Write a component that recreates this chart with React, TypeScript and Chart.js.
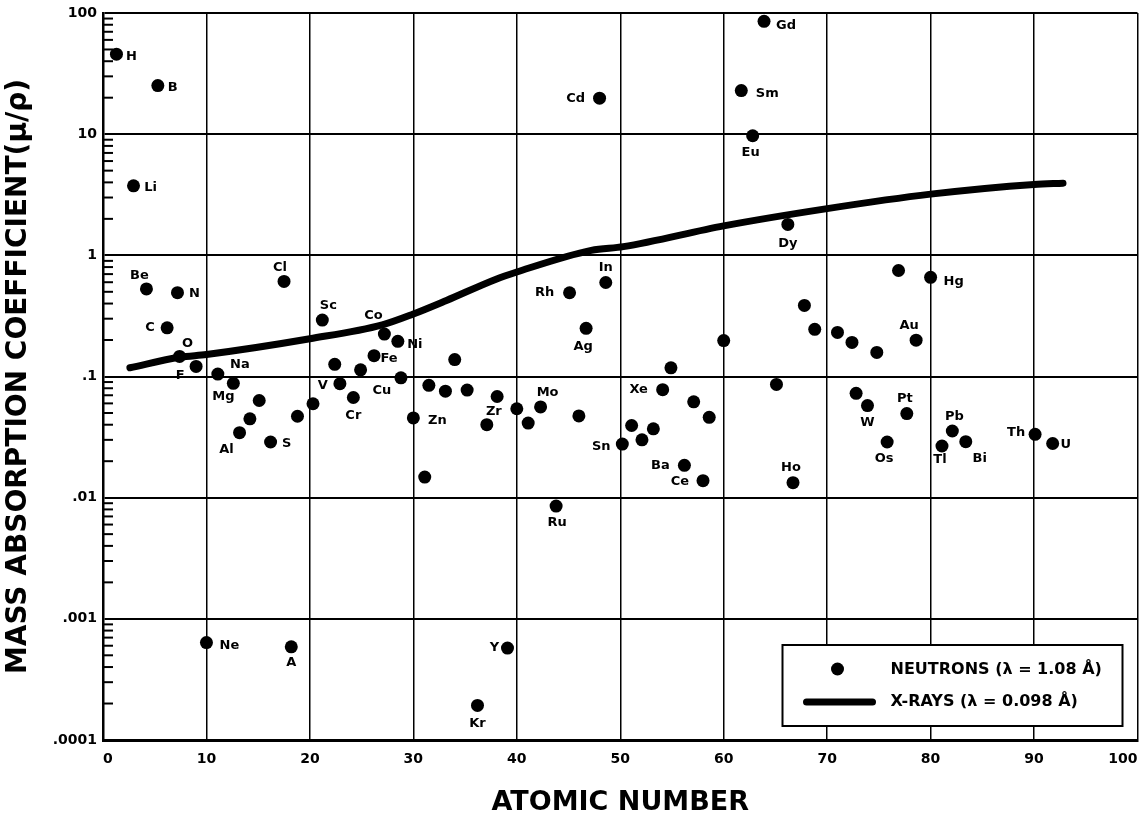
import React, { useEffect, useRef } from 'react';
import { Chart, registerables } from 'chart.js';

Chart.register(...registerables);

const FONT = "'DejaVu Sans', 'Liberation Sans', sans-serif";

// ---- Data ----
const elementSymbols = [
  'H', 'Li', 'Be', 'B', 'C', 'N', 'O', 'F', 'Ne', 'Na',
  'Mg', 'Al', '', '', 'S', 'Cl', 'A', '', '', 'Sc',
  '', 'V', 'Cr', '', 'Fe', 'Co', 'Ni', 'Cu', 'Zn', '',
  '', '', '', '', 'Kr', '', '', 'Y', 'Zr', '',
  'Mo', 'Ru', 'Rh', '', 'Ag', 'Cd', 'In', 'Sn', '', '',
  '', 'Xe', '', 'Ba', '', 'Ce', '', '', 'Sm', 'Eu',
  'Gd', '', 'Dy', 'Ho', '', '', '', '', '', 'W',
  '', 'Os', '', 'Pt', 'Au', 'Hg', 'Tl', 'Pb', 'Bi', 'Th',
  'U',
];

const atomicNumbers = [
  1.3, 2.95, 4.2, 5.3, 6.2, 7.2, 7.4, 9.0, 10.0, 11.1,
  12.6, 13.2, 14.2, 15.1, 16.2, 17.5, 18.2, 18.8, 20.3, 21.2,
  22.4, 22.9, 24.2, 24.9, 26.2, 27.2, 28.5, 28.8, 30.0, 31.1,
  31.5, 33.1, 34.0, 35.2, 36.2, 37.1, 38.1, 39.1, 40.0, 41.1,
  42.3, 43.8, 45.1, 46.0, 46.7, 48.0, 48.6, 50.2, 51.1, 52.1,
  53.2, 54.1, 54.9, 56.2, 57.1, 58.0, 58.6, 60.0, 61.7, 62.8,
  63.9, 65.1, 66.2, 66.7, 67.8, 68.8, 71.0, 72.4, 72.8, 73.9,
  74.8, 75.8, 76.9, 77.7, 78.6, 80.0, 81.1, 82.1, 83.4, 90.1,
  91.8,
];

const neutronCoefficients = [
  45.7, 3.75, 0.528, 25.2, 0.252, 0.492, 0.1465, 0.121, 0.000637, 0.1047,
  0.0879, 0.0344, 0.0447, 0.0634, 0.0288, 0.609, 0.000587, 0.047, 0.0596, 0.292,
  0.126, 0.0873, 0.0671, 0.1135, 0.1485, 0.224, 0.195, 0.0975, 0.0455, 0.0148,
  0.0846, 0.0757, 0.138, 0.0773, 0.000193, 0.04, 0.0684, 0.000574, 0.0542, 0.0413,
  0.0561, 0.00853, 0.491, 0.0473, 0.25, 19.8, 0.597, 0.0277, 0.0394, 0.03,
  0.037, 0.0778, 0.118, 0.0185, 0.0618, 0.0138, 0.046, 0.198, 22.9, 9.7,
  85.4, 0.086, 1.8, 0.0133, 0.386, 0.245, 0.231, 0.191, 0.0726, 0.0575,
  0.158, 0.0288, 0.75, 0.0494, 0.1995, 0.658, 0.0267, 0.0355, 0.029, 0.0333,
  0.028,
];

const xrayAtomicNumbers = [2.6, 7.4, 10, 20, 27, 30, 33.2, 38, 40, 47.2, 50.3, 60, 70, 80, 90, 92.8];
const xrayCoefficients = [0.118, 0.144, 0.152, 0.205, 0.267, 0.328, 0.424, 0.636, 0.729, 1.1, 1.18, 1.75, 2.43, 3.2, 3.85, 3.94];

const xTickValues = [0, 10, 20, 30, 40, 50, 60, 70, 80, 90, 100];
const xTickLabels = ['0', '10', '20', '30', '40', '50', '60', '70', '80', '90', '100'];
const yTickValues = [0.0001, 0.001, 0.01, 0.1, 1, 10, 100];
const yTickLabels = ['.0001', '.001', '.01', '.1', '1', '10', '100'];
const yMinorMultipliers = [2, 3, 4, 5, 6, 7, 8, 9];

const seriesLabels = ['NEUTRONS (λ = 1.08 Å)', 'X-RAYS (λ = 0.098 Å)'];
const xAxisTitle = 'ATOMIC NUMBER';
const yAxisTitle = 'MASS ABSORPTION COEFFICIENT(μ/ρ)';

// ---- Label placement (offset of label centre from its dot, px) ----
const labelOffsets: Record<string, [number, number]> = {
  H: [15, 2], Li: [17, 2], Be: [-7, -13], B: [15, 2], C: [-17, 0], N: [17, 1],
  O: [8, -13], F: [-16, 9], Ne: [23, 3], Na: [22, -9], Mg: [-10, 13], Al: [-13, 17],
  S: [16, 2], Cl: [-4, -14], A: [0, 16], Sc: [6, -14], V: [-17, 2], Cr: [0, 18],
  Fe: [15, 3], Co: [-11, -18], Ni: [17, 3], Cu: [-19, 13], Zn: [24, 3], Kr: [0, 18],
  Y: [-13, 0], Zr: [-23, 3], Mo: [7, -14], Ru: [1, 17], Rh: [-25, 0], Ag: [-3, 18],
  Cd: [-24, 0], In: [0, -15], Sn: [-21, 3], Xe: [-24, 0], Ba: [-24, 0], Ce: [-23, 1],
  Sm: [26, 3], Eu: [-2, 17], Gd: [22, 4], Dy: [0, 19], Ho: [-2, -15], W: [0, 17],
  Os: [-3, 17], Pt: [-2, -15], Au: [-7, -15], Hg: [23, 4], Tl: [-2, 14], Pb: [2, -14],
  Bi: [14, 17], Th: [-19, -2], U: [13, 1],
};

const minorTicksPlugin = {
  id: 'minorTicks',
  afterDraw(chart: any) {
    const y = chart.scales.y;
    const ctx = chart.ctx;
    const left = chart.chartArea.left;
    ctx.save();
    ctx.strokeStyle = '#000';
    ctx.lineWidth = 2;
    for (let d = 0; d < yTickValues.length - 1; d++) {
      for (const m of yMinorMultipliers) {
        const py = y.getPixelForValue(yTickValues[d] * m);
        ctx.beginPath();
        ctx.moveTo(left, py);
        ctx.lineTo(left + 10, py);
        ctx.stroke();
      }
    }
    ctx.restore();
  },
};

const labelPlugin = {
  id: 'elementLabels',
  afterDatasetsDraw(chart: any) {
    const meta = chart.getDatasetMeta(0);
    const ctx = chart.ctx;
    ctx.save();
    ctx.font = `bold 13px ${FONT}`;
    ctx.fillStyle = '#000';
    ctx.textAlign = 'center';
    ctx.textBaseline = 'middle';
    meta.data.forEach((pt: any, i: number) => {
      const sym = elementSymbols[i];
      if (!sym) return;
      const off = labelOffsets[sym] || [14, 0];
      ctx.fillText(sym, pt.x + off[0], pt.y + off[1]);
    });
    ctx.restore();
  },
};

const legendPlugin = {
  id: 'boxLegend',
  afterDraw(chart: any) {
    const { ctx, chartArea } = chart;
    const w = 340;
    const h = 81;
    const bx = chartArea.right - 15 - w;
    const by = chartArea.bottom - 14 - h;
    ctx.save();
    ctx.fillStyle = '#fff';
    ctx.fillRect(bx, by, w, h);
    ctx.strokeStyle = '#000';
    ctx.lineWidth = 2;
    ctx.strokeRect(bx, by, w, h);
    const ds = chart.data.datasets;
    // neutron marker
    ctx.fillStyle = '#000';
    ctx.beginPath();
    ctx.arc(bx + 55, by + 24, ds[0].pointRadius, 0, Math.PI * 2);
    ctx.fill();
    // x-ray line sample
    ctx.lineWidth = ds[1].borderWidth;
    ctx.lineCap = 'round';
    ctx.beginPath();
    ctx.moveTo(bx + 24, by + 57);
    ctx.lineTo(bx + 90, by + 57);
    ctx.stroke();
    ctx.font = `bold 16px ${FONT}`;
    ctx.textAlign = 'left';
    ctx.textBaseline = 'middle';
    ctx.fillText(ds[0].label, bx + 108, by + 25);
    ctx.fillText(ds[1].label, bx + 108, by + 57);
    ctx.restore();
  },
};

export default function App() {
  const ref = useRef<HTMLCanvasElement>(null);

  useEffect(() => {
    const canvas = ref.current;
    if (!canvas) return;
    const chart = new Chart(canvas, {
      type: 'scatter',
      data: {
        datasets: [
          {
            type: 'scatter',
            label: seriesLabels[0],
            data: atomicNumbers.map((z, i) => ({ x: z, y: neutronCoefficients[i] })),
            pointRadius: 6.5,
            pointHoverRadius: 6.5,
            backgroundColor: '#000',
            borderColor: '#000',
            borderWidth: 0,
            order: 1,
          } as any,
          {
            type: 'line',
            label: seriesLabels[1],
            data: xrayAtomicNumbers.map((z, i) => ({ x: z, y: xrayCoefficients[i] })),
            borderColor: '#000',
            backgroundColor: '#000',
            borderWidth: 7,
            pointRadius: 0,
            fill: false,
            cubicInterpolationMode: 'monotone',
            borderCapStyle: 'round',
            borderJoinStyle: 'round',
            order: 0,
          } as any,
        ],
      },
      options: {
        animation: false,
        responsive: false,
        maintainAspectRatio: false,
        events: [],
        layout: { padding: { left: 0, right: 4, top: 13, bottom: 0 } },
        plugins: {
          legend: { display: false },
          tooltip: { enabled: false },
        },
        scales: {
          x: {
            type: 'linear',
            min: 0,
            max: 100,
            afterBuildTicks: (axis: any) => {
              axis.ticks = xTickValues.map((v) => ({ value: v }));
            },
            afterFit: (s: any) => {
              s.height = 81;
              s.paddingLeft = 0;
              s.paddingRight = 0;
            },
            ticks: {
              align: 'inner',
              padding: 11,
              color: '#000',
              font: { family: FONT, size: 14, weight: 'bold' },
              callback: (v: any) => {
                const i = xTickValues.indexOf(Number(v));
                return i >= 0 ? xTickLabels[i] : '';
              },
            },
            grid: { color: '#000', lineWidth: 1.5, drawTicks: false },
            border: { color: '#000', width: 3 },
            title: {
              display: true,
              text: xAxisTitle,
              color: '#000',
              font: { family: FONT, size: 27, weight: 'bold' },
              padding: { top: 0, bottom: 2 },
            },
          },
          y: {
            type: 'logarithmic',
            min: 0.0001,
            max: 100,
            afterBuildTicks: (axis: any) => {
              axis.ticks = yTickValues.map((v) => ({ value: v }));
            },
            afterFit: (s: any) => {
              s.width = 103;
              s.paddingTop = 0;
              s.paddingBottom = 0;
            },
            ticks: {
              padding: 6,
              color: '#000',
              font: { family: FONT, size: 14, weight: 'bold' },
              callback: (v: any) => {
                const i = yTickValues.indexOf(Number(v));
                return i >= 0 ? yTickLabels[i] : '';
              },
            },
            grid: { color: '#000', lineWidth: 2, drawTicks: false },
            border: { color: '#000', width: 2.5 },
            title: {
              display: true,
              text: yAxisTitle,
              color: '#000',
              font: { family: FONT, size: 28, weight: 'bold' },
              padding: { top: 2, bottom: 0 },
            },
          },
        },
      } as any,
      plugins: [minorTicksPlugin, labelPlugin, legendPlugin],
    });
    return () => chart.destroy();
  }, []);

  return (
    <div style={{ position: 'fixed', left: 0, top: 0, width: 1144, height: 821, background: '#fff' }}>
      <canvas ref={ref} width={1144} height={821} style={{ display: 'block', width: 1144, height: 821 }} />
    </div>
  );
}
